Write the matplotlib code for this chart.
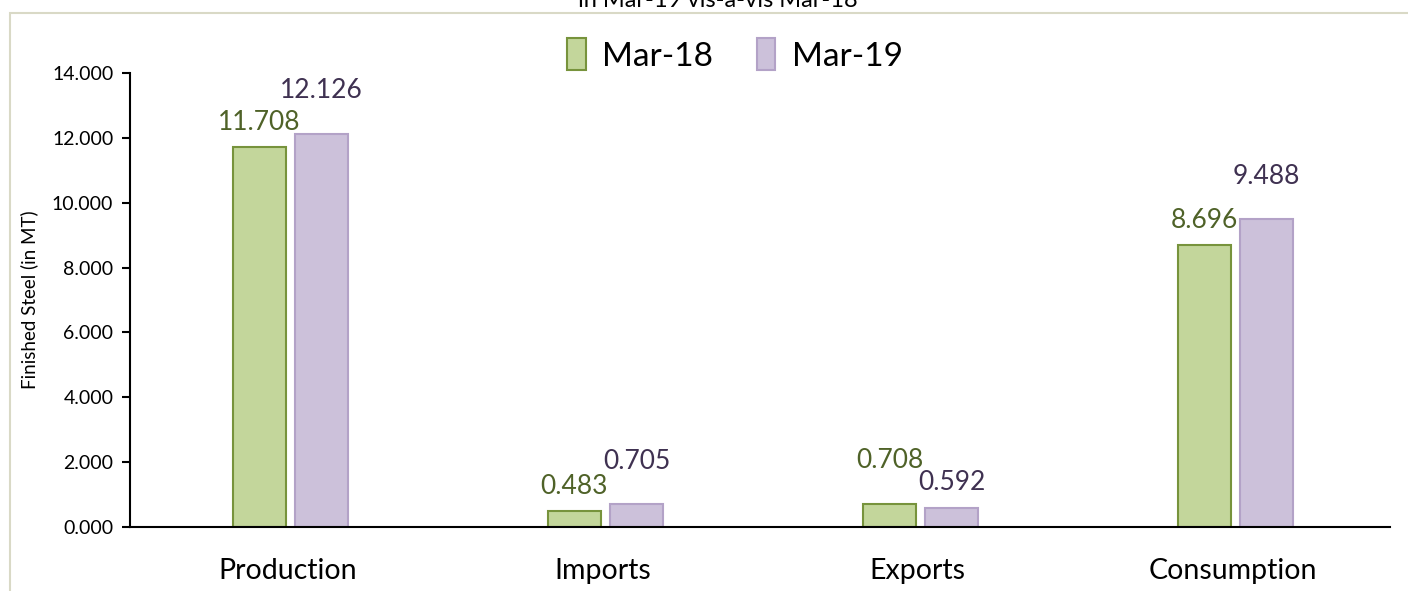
import numpy as np
import matplotlib.pyplot as plt
from matplotlib.patches import Rectangle

plt.rcParams['font.family'] = ['Lato', 'DejaVu Sans']

# data
categories = ['Production', 'Imports', 'Exports', 'Consumption']
mar18 = [11.708, 0.483, 0.708, 8.696]
mar19 = [12.126, 0.705, 0.592, 9.488]
series_names = ['Mar-18', 'Mar-19']
yticks = [0, 2, 4, 6, 8, 10, 12, 14]

green_fill, green_edge, green_txt = '#C3D69B', '#77933C', '#4F6228'
purple_fill, purple_edge, purple_txt = '#CCC1DA', '#B3A2C7', '#3F3151'

fig = plt.figure(figsize=(14.08, 5.91), dpi=100)
ax = fig.add_axes([0.0923, 0.1083, 0.895, 0.768])

# outer chart border (partly cut off in the original)
fig.patches.append(Rectangle((10 / 1408, -0.1), 1.2, 1 - 13 / 591 + 0.1,
                             transform=fig.transFigure, fill=False,
                             edgecolor='#D9D9C6', linewidth=1.5))

# title is cropped at the top of the original image
fig.text(0.51, 1 - 7 / 591, 'in Mar-19 vis-a-vis Mar-18', ha='center',
         va='baseline', fontsize=17)

x = np.arange(len(categories))
w = 0.168
b1 = ax.bar(x - 0.089, mar18, w, color=green_fill, edgecolor=green_edge,
            linewidth=1.5, label=series_names[0])
b2 = ax.bar(x + 0.108, mar19, w, color=purple_fill, edgecolor=purple_edge,
            linewidth=1.5, label=series_names[1])

# the higher bar of each pair has its label lifted a bit more
for bars, vals, other, col in [(b1, mar18, mar19, green_txt),
                               (b2, mar19, mar18, purple_txt)]:
    for rect, v, o in zip(bars, vals, other):
        off = 22 if v > o else 9
        ax.annotate(f'{v:.3f}', (rect.get_x() + rect.get_width() / 2, v),
                    xytext=(0, off), textcoords='offset points', ha='center',
                    va='bottom', fontsize=19, color=col)

ax.set_xlim(-0.5, 3.5)
ax.set_ylim(0, 14)
ax.set_yticks(yticks)
ax.set_yticklabels([f'{t:.3f}' for t in yticks], fontsize=14)
ax.set_xticks(x)
ax.set_xticklabels(categories, fontsize=20.5)
ax.tick_params(axis='x', length=0, pad=22)
ax.tick_params(axis='y', direction='out', length=6, width=1.5, pad=6)
ax.set_ylabel('Finished Steel (in MT)', fontsize=13.5, labelpad=10)

for s in ['top', 'right']:
    ax.spines[s].set_visible(False)
ax.spines['left'].set_linewidth(1.5)
ax.spines['bottom'].set_linewidth(1.5)

ax.legend(loc='center', bbox_to_anchor=(0.48, 1.04), ncol=2,
          frameon=False, fontsize=24, handlelength=0.55, handleheight=1.1,
          columnspacing=1.3, handletextpad=0.5)

fig.savefig('out.png', dpi=100)
